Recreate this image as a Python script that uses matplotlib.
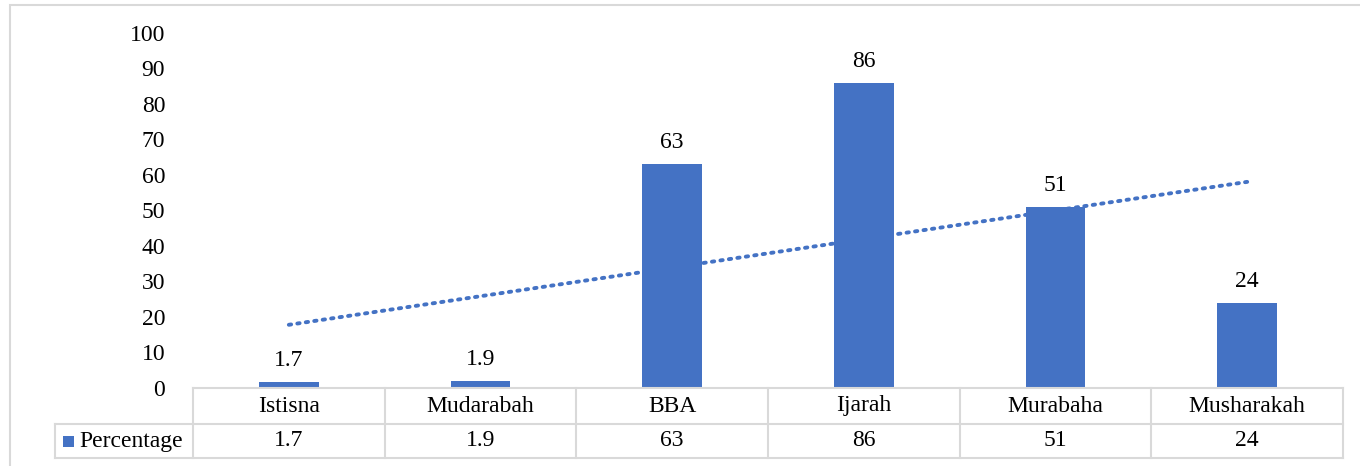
import numpy as np
import matplotlib.pyplot as plt
from matplotlib.patches import Rectangle
from matplotlib.lines import Line2D

plt.rcParams['font.family'] = ['Liberation Serif', 'DejaVu Serif']

# Financing modes and their share (%)
categories = ['Istisna', 'Mudarabah', 'BBA', 'Ijarah', 'Murabaha', 'Musharakah']
percentage = [1.7, 1.9, 63, 86, 51, 24]
value_labels = ['1.7', '1.9', '63', '86', '51', '24']
series_name = 'Percentage'

blue = '#4472C4'
grid_grey = '#D9D9D9'
fs = 17

fig = plt.figure(figsize=(13.6, 4.66), dpi=100)
ax = fig.add_axes([193/1360, 1 - 388/466, 1150/1360, 355/466])

x = np.arange(1, len(categories) + 1)
ax.bar(x, percentage, width=0.31, color=blue, zorder=2)

for xi, v, lab in zip(x, percentage, value_labels):
    ax.annotate(lab, (xi, v), xytext=(0, 8), textcoords='offset points',
                ha='center', va='bottom', fontsize=fs)

# linear trendline through the series
k, b = np.polyfit(x, percentage, 1)
ax.plot(x, k * x + b, color=blue, linestyle=(0, (0.6, 1.6)), linewidth=2.8,
        dash_capstyle='round', zorder=3)

ax.set_xlim(0.5, len(categories) + 0.5)
ax.set_ylim(0, 100)
ax.set_yticks(range(0, 101, 10))
ax.tick_params(axis='y', length=0, pad=20, labelsize=fs)
ax.set_xticks([])
for s in ax.spines.values():
    s.set_visible(False)

# data table under the plot
trans = ax.get_xaxis_transform()
r1 = -36/355
r2 = -70/355
left = 0.5 - 138/191.7
kw = dict(color=grid_grey, linewidth=1.5, transform=trans, clip_on=False)
ax.add_line(Line2D([0.5, 6.5], [0, 0], **kw))
ax.add_line(Line2D([left, 6.5], [r1, r1], **kw))
ax.add_line(Line2D([left, 6.5], [r2, r2], **kw))
ax.add_line(Line2D([left, left], [r1, r2], **kw))
for edge in np.arange(0.5, 7.0, 1.0):
    ax.add_line(Line2D([edge, edge], [0, r2], **kw))

for xi, cat, lab in zip(x, categories, value_labels):
    ax.text(xi, r1 / 2, cat, transform=trans, ha='center', va='center',
            fontsize=fs, clip_on=False)
    ax.text(xi, (r1 + r2) / 2, lab, transform=trans, ha='center', va='center',
            fontsize=fs, clip_on=False)

ax.add_patch(Rectangle((left + 8/191.7, (r1 + r2) / 2 - 5.5/355), 11/191.7, 11/355,
                       facecolor=blue, transform=trans, clip_on=False))
ax.text(left + 24/191.7, (r1 + r2) / 2, series_name, transform=trans,
        ha='left', va='center', fontsize=fs, clip_on=False)

# outer frame
fig.add_artist(Rectangle((10/1360, -0.1), 1.2, 1.1 - 5/466, transform=fig.transFigure,
                         facecolor='none', edgecolor=grid_grey, linewidth=1.5))

fig.savefig('out.png', dpi=100)
